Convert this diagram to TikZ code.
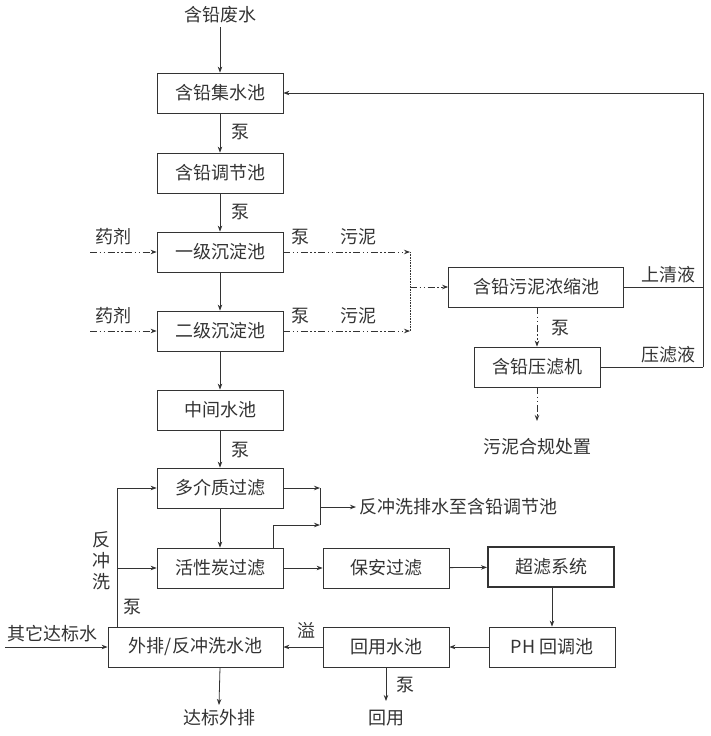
\documentclass[tikz,border=0pt]{standalone}
\usepackage{fontspec}
\setmainfont{Noto Sans CJK SC}
\usetikzlibrary{arrows.meta}

\tikzset{
	box/.style={draw,rectangle,minimum width=126pt,minimum height=40pt,inner sep=0pt},
	flow/.style={-{Stealth[length=6pt,width=4.5pt]}},
	mud/.style={dash pattern=on 7pt off 2.5pt on 1.5pt off 2.5pt on 1.5pt off 2.5pt},
}

\begin{document}
\begin{tikzpicture}[x=1pt,y=-1pt,font=\fontsize{18}{21}\selectfont,line width=0.8pt,color=black!80]
	\useasboundingbox (0,0) rectangle (711,736);
	% main column
	\node (feishui) at (220,15) {含铅废水};
	\node[box] (jishui) at (220,93) {含铅集水池};
	\node[box] (tiaojie) at (220,173) {含铅调节池};
	\node[box] (chen1) at (220,252) {一级沉淀池};
	\node[box] (chen2) at (220,331) {二级沉淀池};
	\node[box] (zhongjian) at (220,410) {中间水池};
	\node[box] (duo) at (220,488) {多介质过滤};
	\node[box] (huoxing) at (220,568) {活性炭过滤};
	\node[box,minimum width=175pt] (waipai) at (195.5,647) {外排/反冲洗水池};
	\node (dabiao) at (219,718) {达标外排};
	% right part
	\node[box] (baoan) at (386,568) {保安过滤};
	\node[box,line width=2pt] (chaolv) at (551,567) {超滤系统};
	\node[box] (ph) at (552,647) {PH 回调池};
	\node[box] (huiyong) at (386,647) {回用水池};
	\node (yong) at (386,718) {回用};
	% sludge part
	\node[box,minimum width=175pt] (nongsuo) at (536,287) {含铅污泥浓缩池};
	\node[box] (yalv) at (537,367) {含铅压滤机};
	\node (chuzhi) at (537,447) {污泥合规处置};
	% labels
	\node at (240,132) {泵};
	\node at (240,212) {泵};
	\node at (240,450) {泵};
	\node at (113,237) {药剂};
	\node at (113,316) {药剂};
	\node at (300,237) {泵};
	\node at (358,237) {污泥};
	\node at (300,316) {泵};
	\node at (358,316) {污泥};
	\node at (560,328) {泵};
	\node at (668,275) {上清液};
	\node at (668,355) {压滤液};
	\node[align=center,font=\fontsize{18}{21}\selectfont] at (101,561) {反\\冲\\洗};
	\node at (132,607) {泵};
	\node at (52,634) {其它达标水};
	\node at (306,630) {溢};
	\node at (405,685) {泵};
	\node[anchor=west] (fanchong) at (356,507) {反冲洗排水至含铅调节池};
	% free ends
	\coordinate (y1) at (90,252);
	\coordinate (y2) at (90,331);
	\coordinate (s1) at (410,252);
	\coordinate (s2) at (410,331);
	\coordinate (s0) at (410,287);
	\coordinate (r1) at (703,287);
	\coordinate (r2) at (703,367);
	\coordinate (c1) at (537,421);
	\coordinate (m1) at (320,488);
	\coordinate (m2) at (320,525);
	\coordinate (m0) at (320,507);
	\coordinate (fb) at (118,568);
	\coordinate (q1) at (5,647);
	\coordinate (u1) at (386,701);
	\coordinate (d1) at (219,705);
	% water flow
	\draw[flow] (feishui) -- (jishui);
	\draw[flow] (jishui) -- (tiaojie);
	\draw[flow] (tiaojie) -- (chen1);
	\draw[flow] (chen1) -- (chen2);
	\draw[flow] (chen2) -- (zhongjian);
	\draw[flow] (zhongjian) -- (duo);
	\draw[flow] (duo) -- (huoxing);
	\draw[flow] (huoxing) -- (baoan);
	\draw[flow] (baoan) -- (chaolv);
	\draw[flow] (chaolv.south -| ph) -- (ph);
	\draw[flow] (ph) -- (huiyong);
	\draw[flow] (huiyong) -- (waipai);
	\draw[flow] (huiyong) -- (u1);
	\draw[flow] (waipai.south -| duo) -- (d1);
	\draw[flow] (q1) -- (waipai);
	% backwash
	\draw[flow] ([xshift=10pt]waipai.north west) |- (duo.west);
	\draw[flow] (fb) -- (huoxing.west);
	\draw[flow] (duo.east) -- (m1);
	\draw[flow] ([xshift=-10pt]huoxing.north east) |- (m2);
	\draw (m1) -- (m2);
	\draw[flow] (m0) -- (fanchong.west);
	% sludge
	\draw[mud,flow] (y1) -- (chen1.west);
	\draw[mud,flow] (y2) -- (chen2.west);
	\draw[mud,flow] (chen1.east) -- (s1);
	\draw[mud,flow] (chen2.east) -- (s2);
	\draw[densely dotted,line width=0.6pt] (s1) -- (s2);
	\draw[mud,flow] (s0) -- (nongsuo.west);
	\draw[mud,flow] (nongsuo.south -| yalv) -- (yalv);
	\draw[mud,flow] (yalv) -- (c1);
	% return liquid
	\draw (nongsuo.east) -- (r1);
	\draw (yalv.east) -- (r2);
	\draw[flow] (r2) |- (jishui.east);
\end{tikzpicture}
\end{document}
